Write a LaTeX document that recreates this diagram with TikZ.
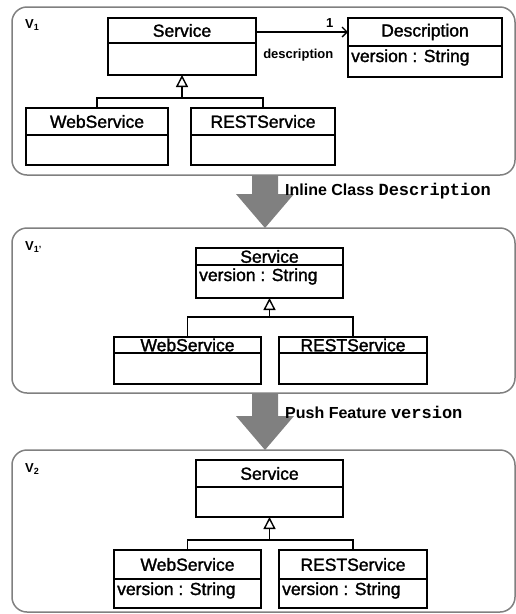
\documentclass[tikz,border=0pt]{standalone}
\usepackage{fontspec}
\setmainfont{Liberation Sans}
\setmonofont{Liberation Mono}
\newfontfamily\heavysans[FakeBold=1.6]{Liberation Sans}
\usetikzlibrary{arrows.meta,calc}
\tikzset{
  panel/.style={draw=gray, line width=1.5pt, rounded corners=15pt, anchor=north west, inner sep=0pt, outer sep=0pt},
  cbox/.style={draw=black, line width=1.3pt, inner sep=0pt, outer sep=0pt, anchor=north west, font=\heavysans\fontsize{17.5}{20}\selectfont},
  attr/.style={inner sep=0pt, anchor=base west, font=\heavysans\fontsize{17.5}{20}\selectfont},
  conn/.style={draw=black, line width=1.3pt},
  gen/.style={conn, -{Triangle[open, length=12pt, width=12pt, line width=1.4pt]}},
  assoc/.style={conn, -{Straight Barb[length=5pt, width=10pt, line width=1.3pt]}},
  alab/.style={inner sep=0pt, font=\fontsize{13}{15}\selectfont\bfseries},
  vlab/.style={inner sep=0pt, anchor=base west, font=\fontsize{13}{15}\selectfont\bfseries},
  tlab/.style={inner sep=0pt, anchor=base west, font=\fontsize{16}{18}\selectfont\bfseries},
  bigarr/.style={fill=gray, draw=none},
}
\newcommand{\umlclass}[8]{%
  \node[cbox, minimum width={#4-#2}, minimum height={#5-#3}] (#1) at (#2,#3) {#7};
  \node[cbox, minimum width={#4-#2}, minimum height={#6-#5}] (#1-a) at (#2,#5) {};
  \node[attr] (#1-t) at ($(#2,#5)+(3,16)$) {#8};
}
\newcommand{\vsub}[1]{{\fontsize{9}{9}\selectfont\raisebox{-2.5pt}{#1}}}
\newcommand{\bigarrow}[2]{%
  \fill[bigarr] ($(#1)+(-13,0)$) -- ($(#1)+(13,0)$) -- ($(#2)+(13,-34)$) -- ($(#2)+(29,-34)$)
     -- (#2) -- ($(#2)+(-29,-34)$) -- ($(#2)+(-13,-34)$) -- cycle;
}
\begin{document}
\begin{tikzpicture}[x=1pt,y=-1pt]
\useasboundingbox (0,0) rectangle (516,614);
% panels
\node[panel, minimum width=503pt, minimum height=168pt] (p1) at (12,7) {};
\node[panel, minimum width=503pt, minimum height=165pt] (p2) at (12,228) {};
\node[panel, minimum width=503pt, minimum height=162pt] (p3) at (12,450) {};
\node[vlab] (v1) at (25,28) {V\vsub{1}};
\node[vlab] (v2) at (25,250) {V\vsub{1'}};
\node[vlab] (v3) at (25,472) {V\vsub{2}};
% transformation arrows
\coordinate (ax) at (265,0);
\coordinate (a1s) at (p1.south -| ax);
\coordinate (a1e) at (p2.north -| ax);
\coordinate (a2s) at (p2.south -| ax);
\coordinate (a2e) at (p3.north -| ax);
\bigarrow{a1s}{a1e}
\bigarrow{a2s}{a2e}
\node[tlab] (t1) at (285,195) {Inline Class {\fontsize{17}{18}\selectfont\texttt{Description}}};
\node[tlab] (t2) at (285,418) {Push Feature {\fontsize{17}{18}\selectfont\texttt{version}}};
% V1
\umlclass{s1}{108}{18}{256}{43}{75}{Service}{}
\umlclass{d1}{348}{18}{502}{46}{77}{Description}{version : String}
\umlclass{w1}{26}{108}{168}{135}{165}{WebService}{}
\umlclass{r1}{191}{108}{335}{135}{165}{RESTService}{}
\draw[assoc] (s1.east |- d1.west) -- (d1.west)
  node[alab, pos=1, anchor=south east, xshift=-14pt, yshift=4pt] {1}
  node[alab, pos=0.46, anchor=north, yshift=-16pt] {description};
\coordinate (j1) at (182,98);
\draw[conn] (w1.north) |- (j1) -| (r1.north);
\draw[gen] (j1) -- (s1-a.south);
% V1'
\umlclass{s2}{196}{248}{343}{265}{298}{Service}{version : String}
\umlclass{w2}{114}{337}{261}{353}{384}{WebService}{}
\umlclass{r2}{279}{337}{427}{353}{384}{RESTService}{}
\coordinate (j2) at (269.5,317);
\draw[conn] (w2.north) |- (j2) -| (r2.north);
\draw[gen] (j2) -- (s2-a.south);
% V2
\umlclass{s3}{196}{460}{343}{487}{517}{Service}{}
\umlclass{w3}{114}{550}{261}{579}{608}{WebService}{version : String}
\umlclass{r3}{279}{550}{427}{579}{608}{RESTService}{version : String}
\coordinate (j3) at (269.5,540);
\draw[conn] (w3.north) |- (j3) -| (r3.north);
\draw[gen] (j3) -- (s3-a.south);
\end{tikzpicture}
\end{document}
